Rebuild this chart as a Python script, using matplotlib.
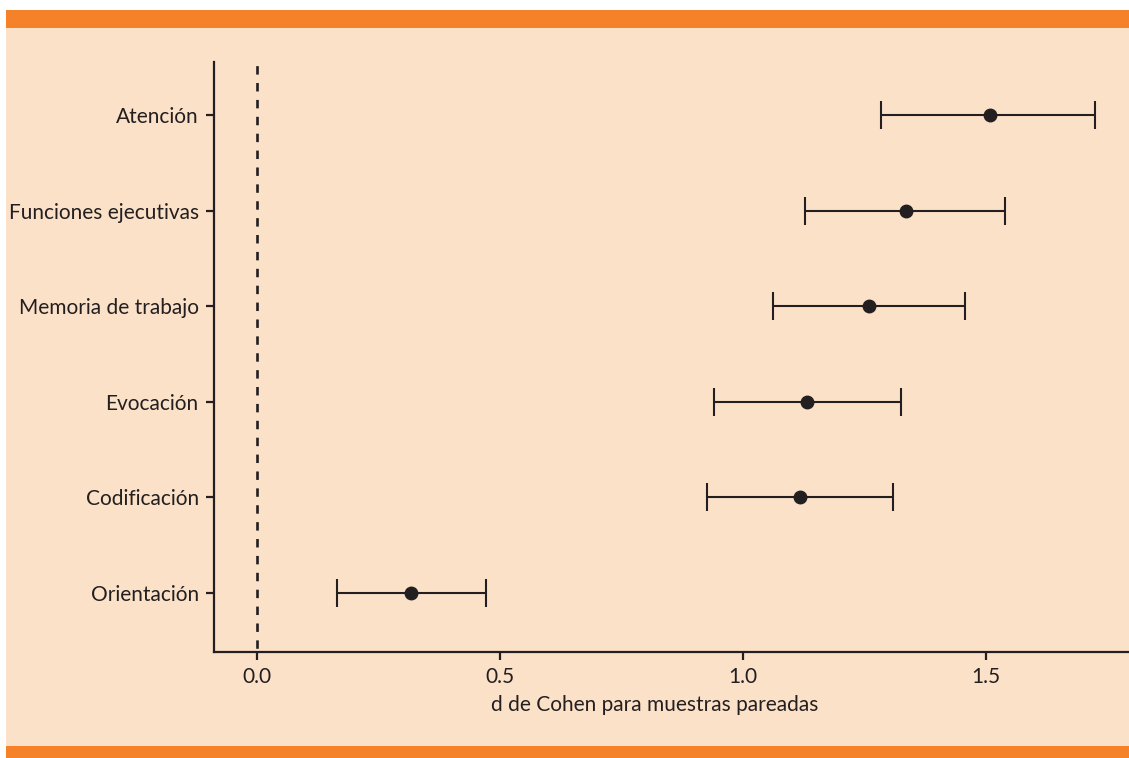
import matplotlib
matplotlib.use("Agg")
import matplotlib.pyplot as plt
from matplotlib.patches import Rectangle

categories = ["Orientación", "Codificación", "Evocación", "Memoria de trabajo",
              "Funciones ejecutivas", "Atención"]
d_values = [0.317, 1.117, 1.132, 1.259, 1.335, 1.508]
ci_low = [0.165, 0.926, 0.940, 1.062, 1.128, 1.284]
ci_high = [0.471, 1.309, 1.325, 1.457, 1.539, 1.724]
x_ticks = [0.0, 0.5, 1.0, 1.5]
x_label = "d de Cohen para muestras pareadas"

plt.rcParams['font.family'] = ['Lato', 'DejaVu Sans']

W, H = 1129, 758
fig = plt.figure(figsize=(W / 100, H / 100), dpi=100)
fig.patch.set_facecolor("white")

orange = "#F58229"
peach = "#FCE1C9"
ink = "#231F20"

# panel background and orange bands
fig.add_artist(Rectangle((6 / W, 12 / H), 1 - 6 / W, (746 - 28) / H,
                         transform=fig.transFigure, facecolor=peach, edgecolor="none", zorder=0))
fig.add_artist(Rectangle((6 / W, 1 - 28 / H), 1 - 6 / W, 18 / H,
                         transform=fig.transFigure, facecolor=orange, edgecolor="none", zorder=0))
fig.add_artist(Rectangle((6 / W, 0), 1 - 6 / W, 12 / H,
                         transform=fig.transFigure, facecolor=orange, edgecolor="none", zorder=0))

ax = fig.add_axes([214 / W, (H - 652) / H, (W - 214) / W, (652 - 62) / H])
ax.set_facecolor("none")

y = list(range(len(categories)))
xerr = [[d - lo for d, lo in zip(d_values, ci_low)],
        [hi - d for d, hi in zip(d_values, ci_high)]]
ax.errorbar(d_values, y, xerr=xerr, fmt="o", color=ink, ecolor=ink,
            elinewidth=1.5, capsize=10, capthick=1.5, markersize=9, zorder=3)
ax.axvline(0, color=ink, linestyle=(5, (3.2, 3.2)), linewidth=1.9, zorder=2)

ax.set_xlim(-0.088, 1.794)
ax.set_ylim(-0.62, 5.555)
ax.set_xticks(x_ticks)
ax.set_xticklabels([f"{t:.1f}" for t in x_ticks])
ax.set_yticks(y)
ax.set_yticklabels(categories)
ax.set_xlabel(x_label, fontsize=15, color=ink, labelpad=4)
ax.xaxis.set_label_coords(0.482, -0.073)

for s in ["top", "right"]:
    ax.spines[s].set_visible(False)
for s in ["left", "bottom"]:
    ax.spines[s].set_color(ink)
    ax.spines[s].set_linewidth(1.6)
ax.tick_params(axis="both", colors=ink, labelsize=15, width=1.6, length=6, direction="out")
ax.tick_params(axis="x", pad=5)
ax.tick_params(axis="y", pad=5)

fig.savefig("out.png", dpi=100, facecolor=fig.get_facecolor())
